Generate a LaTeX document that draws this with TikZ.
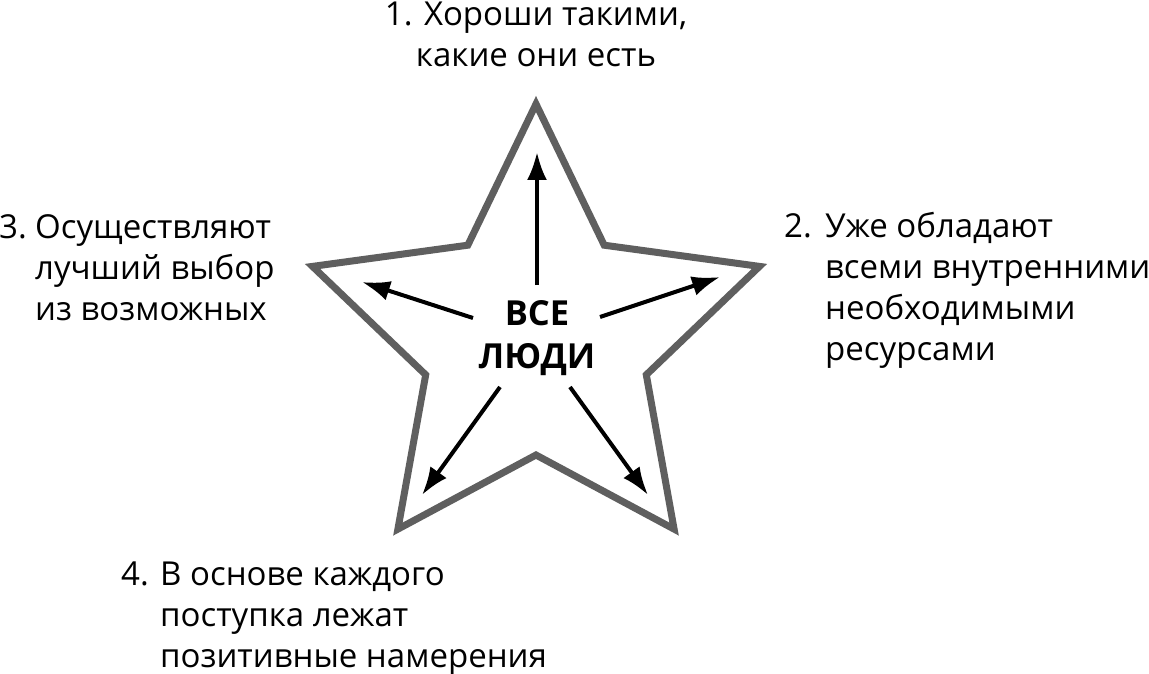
\documentclass[tikz,border=0pt]{standalone}
\usepackage{fontspec}
\setmainfont{Open Sans}
\usetikzlibrary{arrows.meta}
\definecolor{stargray}{HTML}{5F5F5F}
\tikzset{
  lbl/.style={inner sep=0pt, anchor=base west, font=\fontsize{33}{41}\selectfont},
  ray/.style={line width=4pt, -{Latex[length=28pt,width=20pt]}},
  starline/.style={draw=stargray, line width=7pt, line join=miter}
}
\begin{document}
\begin{tikzpicture}[x=1pt,y=-1pt]
\useasboundingbox (0,0) rectangle (1149,674);
% star
\draw[starline] (536,104) -- (604.2,245.2) -- (759.5,266.4) -- (646.3,374.8) -- (674.1,529.1)
  -- (536,455) -- (397.9,529.1) -- (425.7,374.8) -- (312.5,266.4) -- (467.8,245.2) -- cycle;
% centre text
\node[inner sep=0pt, anchor=base, font=\fontsize{34.5}{43}\selectfont\bfseries] (c) at (537,325)
  {\begin{tabular}[t]{@{}c@{}}ВСЕ\\ЛЮДИ\end{tabular}};
% arrows
\coordinate (s1) at (537,285); \coordinate (t1) at (537,152);
\coordinate (s2) at (600,317); \coordinate (t2) at (720,277);
\coordinate (s3) at (473,318); \coordinate (t3) at (362,282);
\coordinate (s4) at (500,387); \coordinate (t4) at (422,495);
\coordinate (s5) at (570,387); \coordinate (t5) at (648,495);
\draw[ray] (s1) -- (t1);
\draw[ray] (s2) -- (t2);
\draw[ray] (s3) -- (t3);
\draw[ray] (s4) -- (t4);
\draw[ray] (s5) -- (t5);
% labels
\node[lbl, anchor=base] (l1) at (536,26)
  {\begin{tabular}[t]{@{}c@{}}1. Хороши такими,\\какие они есть\end{tabular}};
\node[lbl] (l2) at (784,237)
  {\makebox[41pt][l]{2.}\begin{tabular}[t]{@{}l@{}}Уже обладают\\всеми внутренними\\необходимыми\\ресурсами\end{tabular}};
\node[lbl] (l3) at (-1,238)
  {\makebox[36pt][l]{3.}\begin{tabular}[t]{@{}l@{}}Осуществляют\\лучший выбор\\из возможных\end{tabular}};
\node[lbl] (l4) at (121,585)
  {\makebox[39pt][l]{4.}\begin{tabular}[t]{@{}l@{}}В основе каждого\\поступка лежат\\позитивные намерения\end{tabular}};
\end{tikzpicture}
\end{document}
